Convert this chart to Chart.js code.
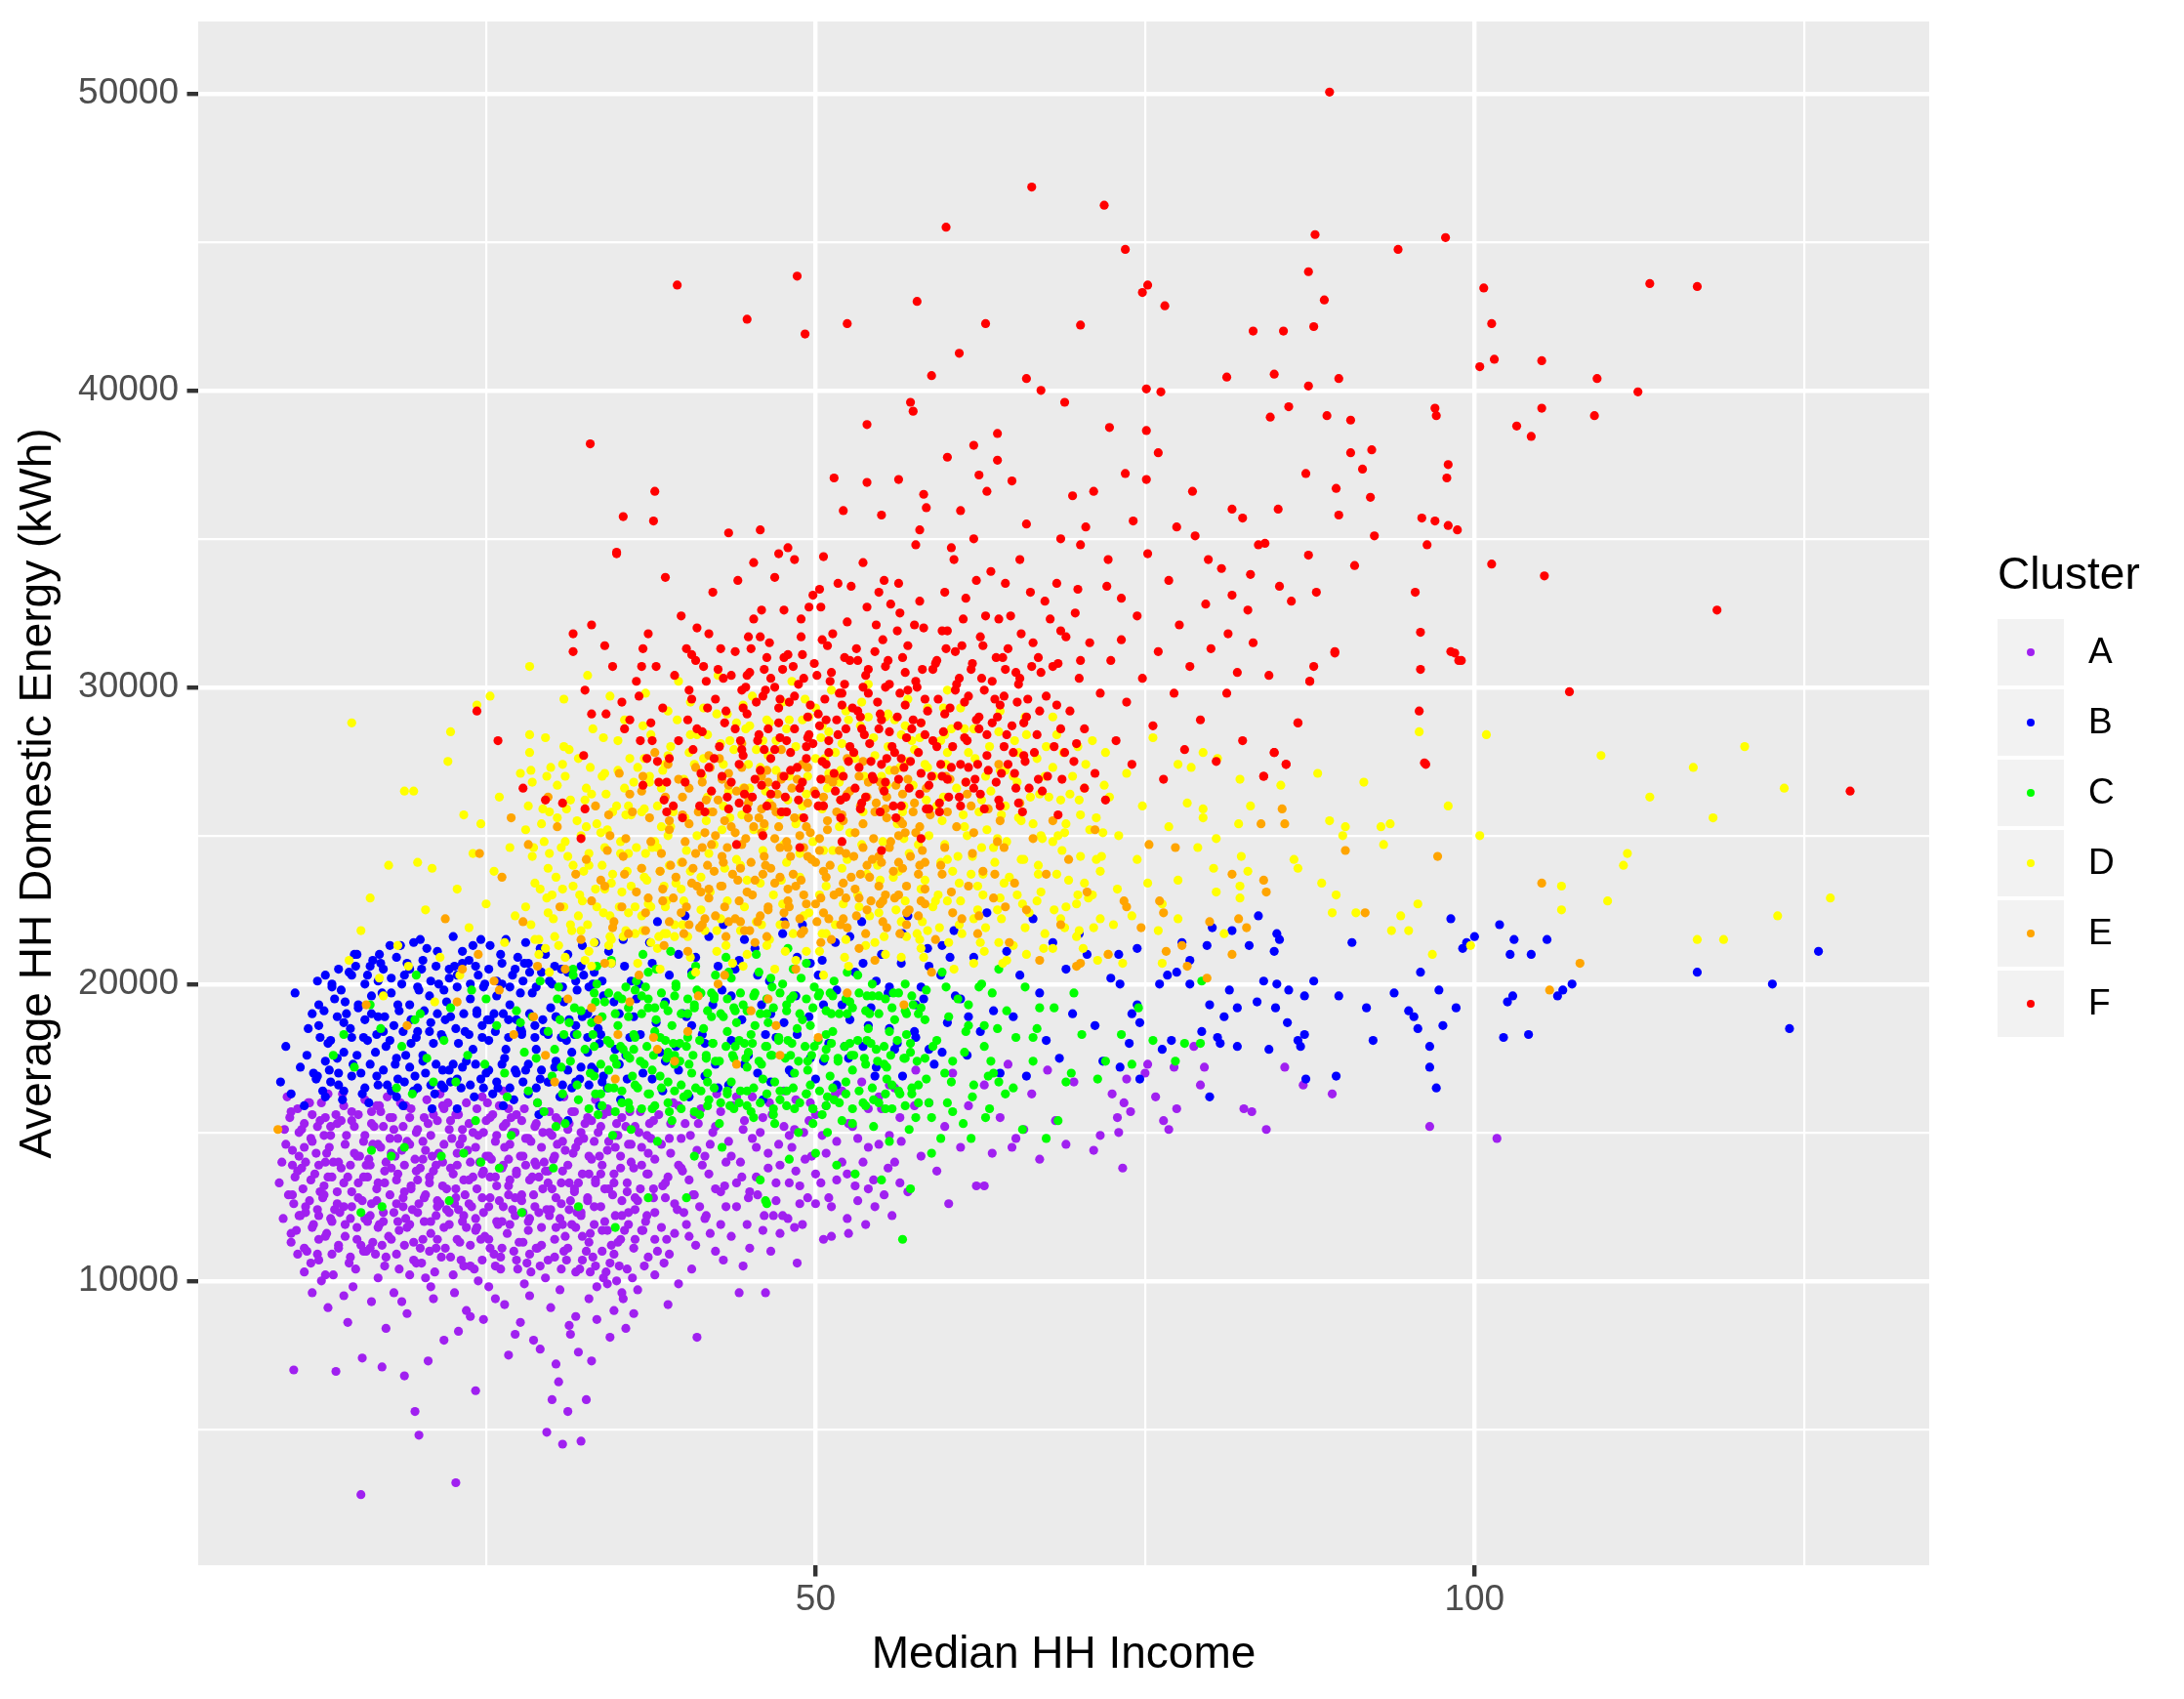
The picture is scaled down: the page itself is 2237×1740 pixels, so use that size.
<!DOCTYPE html>
<html lang="en">
<head>
<meta charset="utf-8">
<title>Median HH Income vs Average HH Domestic Energy</title>
<script src="https://cdn.jsdelivr.net/npm/chart.js@4.4.1/dist/chart.umd.min.js"></script>
<style>
  html, body { margin: 0; padding: 0; background: #ffffff; }
  #chart { display: block; }
</style>
</head>
<body>
<canvas id="chart" width="2237" height="1740"></canvas>
<script>
// values: [median HH income, average HH domestic energy kWh]
const clusterNames = ['A', 'B', 'C', 'D', 'E', 'F'];
const clusterColors = ['#A020F0', '#0000FF', '#00FF00', '#FFFF00', '#FFA500', '#FF0000'];

const xTicks = [25, 50, 75, 100, 125];
const xLabelled = [50, 100];
const yTicks = [5000, 10000, 15000, 20000, 25000, 30000, 35000, 40000, 45000, 50000];
const yLabelled = [10000, 20000, 30000, 40000, 50000];

const clusterA = [
  [9.3,13300],[9.6,12100],[9.8,14600],[10.1,15500],[10.3,13900],[10.4,12600],[10.6,11700],[10.8,14200],[11.0,15100],[11.1,13100],
  [11.3,12300],[11.5,16000],[11.7,14800],[11.9,11900],[12.0,13600],[12.2,10900],[12.4,15400],[12.6,12800],[12.8,14000],[13.0,16300],
  [12.3,11400],[12.7,13200],[13.1,14500],[13.3,12000],[13.6,15600],[13.8,11200],[14.0,13800],[14.2,12500],[14.4,14900],[14.6,10600],
  [14.8,13000],[15.0,15200],[15.2,11800],[15.4,14200],[15.6,12700],[15.8,16100],[16.0,13500],[13.4,10200],[14.9,9800],[15.9,11000],
  [16.2,12200],[16.4,14600],[16.6,10900],[16.8,13300],[17.0,15700],[17.2,12000],[17.4,14000],[17.6,11500],[17.8,13800],[18.0,15100],
  [18.2,12600],[18.4,10400],[18.6,14400],[18.8,13000],[19.0,11800],[19.2,15500],[19.4,12400],[19.6,14100],[19.8,13400],[20.0,11100],
  [16.5,15200],[17.5,16200],[18.5,16000],[19.5,10700],[16.9,11900],[18.9,12100],
  [20.2,14700],[20.4,12900],[20.6,15300],[20.8,11600],[21.0,13700],[21.2,12200],[21.4,14300],[21.6,10800],[21.8,15800],[22.0,13100],
  [22.2,11900],[22.4,14800],[22.6,12600],[22.8,13900],[23.0,11300],[23.2,15100],[23.4,12900],[23.6,14400],[23.8,10500],[24.0,13500],
  [20.5,16100],[21.5,16300],[22.5,10200],[23.5,16000],[21.3,12700],[22.9,12400],
  [24.2,12100],[24.4,14900],[24.6,11400],[24.8,13700],[25.0,15400],[25.2,12500],[25.4,14100],[25.6,10900],[25.8,13200],[26.0,15900],
  [26.2,12000],[26.4,14500],[26.6,11600],[26.8,13400],[27.0,15000],[27.2,12800],[27.4,10400],[27.6,14200],[27.8,12300],[28.0,13900],
  [24.7,16200],[26.3,16400],[27.3,15600],[25.3,11100],[26.7,12900],
  [28.2,11700],[28.4,14700],[28.6,12900],[28.8,15300],[29.0,13500],[29.2,11200],[29.4,14000],[29.6,12400],[29.8,15700],[30.0,13100],
  [30.2,10800],[30.4,14600],[30.6,12100],[30.8,13700],[31.0,11500],[31.2,15100],[31.4,12700],[31.6,14300],[31.8,10300],[32.0,13300],
  [28.9,16000],[30.9,16200],[29.5,10100],[31.5,11900],
  [32.2,12200],[32.4,14800],[32.6,11000],[32.8,13600],[33.0,15400],[33.2,12500],[33.4,9800],[33.6,14200],[33.8,11700],[34.0,13100],
  [34.2,15800],[34.4,10600],[34.6,12900],[34.8,14500],[35.0,11300],[35.2,13800],[35.4,9400],[35.6,15200],[35.8,12300],[36.0,14000],
  [32.9,10300],[34.9,10000],[33.3,16100],
  [36.3,12800],[36.6,15000],[36.9,11700],[37.2,13600],[37.5,14800],[37.8,12300],[38.1,15600],[38.4,13200],[38.7,11400],[39.0,14300],
  [39.3,12600],[39.6,15900],[39.9,13700],[40.2,11900],[40.5,14900],[40.8,12900],[41.1,15300],[41.4,13900],[41.7,12200],[42.0,14600],
  [37.0,10500],[38.9,10900],[40.9,11200],
  [42.4,13100],[42.8,15700],[43.2,12500],[43.6,14200],[44.0,16200],[44.4,13500],[44.8,11900],[45.2,14800],[45.6,12900],[46.0,15500],
  [46.4,13800],[46.8,12200],[47.2,14600],[47.6,16400],[48.0,13300],[48.4,15100],[48.8,12600],[49.2,14100],[49.6,16000],[50.0,13600],
  [43.0,10700],[45.0,11100],[47.3,11600],[48.6,10600],[46.2,9600],
  [50.5,14900],[51.0,12800],[51.5,16300],[52.0,14000],[52.5,15300],[53.0,13200],[53.5,16700],[54.0,14500],[54.5,12500],[55.0,15800],
  [55.5,13800],[56.0,16500],[56.5,14700],[57.0,13000],[57.5,15900],[58.0,14200],[51.2,11500],[53.8,11900],[55.8,12200],[57.6,17100],
  [58.6,16000],[59.2,13700],[59.8,15200],[60.4,17000],[61.0,14500],[61.6,15900],[62.2,13200],[62.8,16600],[63.4,14300],[64.0,15500],
  [64.6,17300],[65.2,14800],[65.8,15100],[66.4,16300],[67.0,14100],[67.6,17100],[68.2,15400],[69.0,14600],[69.6,16700],[62.8,13200],
  [64.9,14500],[60.1,12600],
  [71.1,14400],[71.6,14900],[72.5,16300],[72.9,15500],[73.0,15000],[73.3,13800],[73.4,16000],[73.6,16800],[73.9,15700],[75.0,17000],
  [75.2,17300],[75.8,16200],[76.4,15400],[76.8,15100],[77.2,17200],[77.4,15800],[78.7,17900],[79.2,16600],[79.5,17200],[82.5,15800],
  [83.1,15700],[84.2,15100],[85.6,17200],[87.0,16600],[89.2,16300],[96.6,15200],[101.7,14800],
  [10.4,7000],[13.6,6950],[15.5,2800],[19.6,5600],[19.9,4800],[24.2,6300],[22.7,3200],[29.6,4900],[30.8,4500],[32.2,4600],
  [32.6,6000],[30.5,6600],[29.1,7700],[28.6,8000],[31.8,8800],[30.3,7200],[31.3,8500],[33.4,8700],[34.7,9000],[35.3,9600],
  [36.5,9700],[38.8,9200],[41.0,8100],[44.2,9600],[26.7,7500],[27.2,8200],[24.8,8700],[22.9,8300],[21.0,9400],[19.0,8900],
  [17.4,8400],[16.3,9300],[14.5,8600],[13.0,9100],[11.8,9600],[11.2,10300],[12.5,10000],[18.0,9600],[20.4,10100],[25.7,9400],
  [27.9,9900],[29.9,9100],[33.9,10100],[37.8,10200],[39.6,9900],[23.5,9000],[26.1,10400],[15.6,7400],[17.1,7100],[18.8,6800],
  [21.8,8000],[20.6,7300],[31.2,5600],[30.0,6000],[32.0,7600],[33.0,7300],[28.3,9500],[34.4,8100],
  [9.5,14000],[9.7,15100],[10.0,12900],[10.2,11300],[10.5,13500],[9.9,16200],[10.7,15800],[10.9,12200],[11.2,14500],[11.4,11000],
  [11.0,13800],[11.6,12700],[11.8,15600],[12.1,14300],[12.3,12200],[12.5,16000],[11.7,10600],[12.4,13000],[12.9,11600],[13.2,15200],
  [13.0,13500],[13.4,14000],[12.7,14900],[13.5,12400],[13.7,13000],[14.0,15400],[14.3,11500],[13.9,12300],[14.5,13500],[14.1,16300],
  [14.7,12100],[15.0,14300],[15.3,13300],[14.8,15700],[15.5,11200],[15.1,10400],[15.7,14700],[16.0,12000],[16.3,15700],[15.9,13900],
  [16.4,11300],[16.1,14100],[16.7,12700],[17.0,14500],[17.3,13300],[16.9,15900],[17.4,10800],[17.1,11200],[17.7,14800],[18.0,12300],
  [18.3,13600],[17.9,15500],[18.4,11700],[18.1,14200],[18.7,12800],[19.0,14700],[19.3,13100],[18.9,15900],[19.5,11300],[19.2,10200],
  [19.7,15000],[20.0,13800],[20.3,12000],[19.9,12600],[20.4,14400],[20.1,10600],[20.7,13300],[21.0,15600],[21.3,11400],[20.9,14200],
  [21.5,12600],[21.1,10300],[21.7,14000],[22.0,12400],[22.3,15400],[21.9,11100],[22.5,13600],[22.1,16000],[22.7,13100],[23.0,14600],
  [23.3,12200],[22.9,15600],[23.5,11800],[23.1,10700],[23.7,13400],[24.0,15000],[24.3,11800],[23.9,12500],[24.5,14000],[24.1,10400],
  [24.7,12800],[25.0,14200],[25.3,13500],[24.9,11500],[25.5,15600],[25.1,16000],[25.7,14700],[26.0,12700],[26.3,13900],[25.9,11900],
  [26.5,15300],[26.1,10800],[26.7,14100],[27.0,12400],[27.3,13700],[26.9,15500],[27.5,11300],[27.1,11000],[27.7,12900],[28.0,14800],
  [28.3,12100],[27.9,15800],[28.5,13500],[28.1,10600],[28.7,14000],[29.0,12300],[29.3,15000],[28.9,11100],[29.5,13700],[29.1,10500],
  [29.7,13300],[30.0,14900],[30.3,11800],[29.9,12400],[30.5,15400],[30.1,14100],[30.7,12600],[31.0,14400],[31.3,13300],[30.9,11000],
  [31.5,15700],[31.1,10700],[31.7,13000],[32.0,14700],[32.3,11500],[31.9,12300],[32.5,15300],[32.1,10400],[32.7,12800],[33.0,14100],
  [33.3,13400],[32.9,11600],[33.5,15000],[33.1,10800],[33.7,13600],[34.0,12000],[34.3,14700],[33.9,15600],[34.5,11200],[34.1,10300],
  [34.7,13300],[35.0,14900],[35.3,12200],[34.9,15300],[35.5,11700],[35.1,10500],[35.7,13000],[36.0,14600],[36.3,11400],[35.9,15700],
  [36.5,12700],[36.1,10100],[36.8,13900],[37.1,12000],[37.4,15300],[37.7,13100],[38.0,11000],[37.3,14300],[38.3,14600],[38.6,12800],
  [39.0,15300],[39.3,11600],[39.6,13900],[40.0,12300],[38.8,13500],[39.8,14800],[40.4,13400],[40.8,15600],[41.2,12500],[41.6,14200],
  [42.0,11600],[42.4,15200],[42.8,13000],[43.2,14000],[43.6,11500],[44.0,13300],[44.5,15100],[45.0,13000],[45.5,14500],[46.0,11700],
  [46.5,16000],[47.0,13300],[47.5,12200],[48.0,14900],[48.5,13700],[49.0,11900],[49.5,15400],[50.0,12600],[50.8,14300],[51.6,13400],
  [52.4,12100],[53.2,14800],[54.0,13100],[54.8,16200],[55.6,14900],[56.4,13300],
  [12.8,10200],[14.2,9500],[16.8,10100],[18.6,9300],[20.8,9800],[22.6,9600],[24.4,10000],[26.4,9200],[28.4,10300],[30.6,9700],
  [32.8,9400],[34.2,9900],[36.2,8900],[35.6,8400],[31.4,8200],[27.6,8600],[25.2,9800],[23.8,8800],
  [10.2,11600],[10.3,12900],[10.3,14400],[10.2,15700],[10.8,12200],[10.7,13700],[10.8,15000],[10.7,10900],[11.2,11100],[11.3,12500],
  [11.3,14000],[11.2,15300],[11.8,11800],[11.7,13400],[11.8,14700],[11.6,16000],[12.2,12400],[12.3,13900],[12.2,15200],[12.3,10700],
  [12.8,11500],[12.7,12900],[12.9,14300],[12.8,15500],[13.2,12100],[13.3,13500],[13.2,14900],[13.3,10900],[13.8,11100],[13.7,12600],
  [13.8,14000],[13.7,15300],[14.3,11900],[14.2,13300],[14.3,14600],[14.2,15900],[14.8,12500],[14.7,13900],[14.8,15400],[14.7,10800],
  [15.2,11400],[15.3,12800],[15.2,14200],[15.3,15600],[15.8,12100],[15.7,13500],[15.8,14900],[15.7,11000],[16.2,11100],[16.3,12600],
  [16.2,13900],[16.3,15300],[16.8,11800],[16.7,13100],[16.8,14600],[16.7,15900],[17.2,12300],[17.3,13700],[17.2,15200],[17.3,10500],
  [17.8,11400],[17.7,12900],[17.8,14300],[17.7,15500],[18.3,12000],[18.2,13400],[18.3,14800],[18.2,10900],[18.8,11200],[18.7,12500],
  [18.8,13900],[18.7,15200],[19.2,11900],[19.3,13200],[19.2,14600],[19.3,15800],[19.8,12300],[19.7,13700],[19.8,15100],[19.7,10600],
  [20.2,11400],[20.3,12800],[20.2,14100],[20.3,15500],[20.8,12000],[20.7,13500],[20.8,14900],[20.7,11000],[21.2,11100],[21.3,12500],
  [21.2,13900],[21.3,15400],[21.8,11800],[21.7,13200],[21.8,14600],[21.7,15900],[22.2,12300],[22.3,13800],[22.2,15100],[22.3,10800],
  [22.8,11400],[22.7,12800],[22.8,14300],[22.7,15600],[23.2,12000],[23.3,13400],[23.2,14800],[23.3,10500],[23.8,11200],[23.7,12600],
  [23.8,14000],[23.7,15300],[24.2,11700],[24.3,13100],[24.2,14500],[24.3,15800],[24.8,12300],[24.7,13600],[24.8,15000],[24.7,10700],
  [25.2,11400],[25.3,12800],[25.2,14200],[25.3,15500],[25.8,12000],[25.7,13500],[25.8,14900],[25.7,10500],[26.2,11100],[26.3,12500],
  [26.2,13800],[26.3,15200],[26.8,11900],[26.7,13200],[26.8,14600],[26.7,15800],[27.2,12200],[27.3,13600],[27.2,15000],[27.3,10700],
  [27.8,11300],[27.7,12700],[27.8,14200],[27.7,15400],[28.2,12000],[28.3,13400],[28.2,14800],[28.3,10900],[28.8,11100],[28.7,12500],
  [28.8,13900],[28.7,15200],[29.2,11800],[29.3,13100],[29.2,14500],[29.3,15700],[29.8,12200],[29.7,13700],[29.8,15000],[29.7,10700],
  [30.2,11400],[30.3,12800],[30.2,14200],[30.3,15500],[30.8,11900],[30.7,13300],[30.8,14700],[30.7,10400],[31.2,11100],[31.3,12400],
  [31.2,13900],[31.3,15300],[31.8,11800],[31.7,13100],[31.8,14500],[31.7,15700],[32.2,12300],[32.3,13600],[32.2,15000],[32.3,10700],
  [32.8,11300],[32.7,12700],[32.8,14200],[32.7,15500],[33.2,11900],[33.3,13300],[33.2,14700],[33.3,10500],[33.8,11000],[33.7,12500],
  [33.8,13900],[33.7,15200],[34.2,11700],[34.3,13100],[34.2,14400],[34.3,15700],[34.8,12200],[34.7,13600],[34.8,14900],[34.7,10900],
  [35.2,11400],[35.3,12700],[35.2,14200],[35.3,15500],[35.8,11900],[35.7,13300],[35.8,14600],[35.7,10400],[36.2,11100],[36.3,12400],
  [36.2,13800],[36.3,15200],[36.8,11700],[36.7,13100],[36.8,14500],[36.7,15700],[37.2,12200],[37.3,13600],[37.2,14900],[37.3,10800],
  [37.8,11400],[37.7,12800],[37.8,14100],[37.7,15400],
  [38.3,11800],[38.6,13300],[38.9,14800],[39.2,16000],[39.5,12400],[39.8,13800],[40.1,15300],[40.4,11500],[40.7,12900],[41.0,14400],
  [41.3,15800],[41.6,12100],[41.9,13600],[42.2,15000],[42.5,16300],[42.8,11900],[43.1,13200],[43.4,14700],[43.7,15900],[44.0,12500],
  [44.3,14000],[44.6,15400],[44.9,12800],[45.2,16200],[45.5,13500],[45.8,15000],[46.1,12200],[46.4,14300],[46.7,15600],[47.0,12700],
  [47.3,13900],[47.6,15200],[47.9,12100],[48.2,14500],[48.5,16100],[48.8,13200],[49.1,15000],[49.4,12800],[49.7,14200],[50.0,15600],
  [50.4,13300],[50.8,15900],[51.2,12500],[51.6,14700],[52.0,16400],[52.4,13600],[52.8,15200],[53.2,12700],[53.6,14000],[54.0,15800],
  [54.4,13400],[54.8,14600],[55.2,12900],[55.6,16600],[56.0,14000],[56.4,15500],[38.5,10600],[40.6,10400],[42.4,11000],[44.5,10500],
  [46.6,11000],[48.4,11800],[50.6,11400],[52.5,11600]
];

const clusterB = [
  [9.4,16700],[9.8,17900],[10.2,16300],[10.5,19700],[10.9,17200],[11.2,15900],[11.5,18500],[11.9,17000],[12.3,19300],[12.6,16400],
  [13.0,18000],[13.3,20000],[13.7,17500],[14.1,16100],[14.4,19000],[14.8,18200],[15.1,20600],[15.5,17000],[15.8,18800],[16.1,16000],
  [16.3,19600],[16.6,17700],[16.9,21000],[17.2,18400],[17.5,16600],[17.8,20200],[18.1,17300],[18.4,19100],[18.7,15900],[19.0,20700],
  [19.3,18000],[19.6,16900],[19.9,19800],[20.2,17600],[20.5,21200],[20.8,18700],[21.1,16300],[21.4,20000],[21.7,17100],[22.0,19400],
  [16.8,18900],[18.2,16200],[19.5,21400],[20.9,15800],[21.6,18300],
  [22.3,16700],[22.6,20600],[22.9,18000],[23.2,21100],[23.5,17400],[23.8,19500],[24.1,16200],[24.4,20300],[24.7,18600],[25.0,17000],
  [25.3,21300],[25.6,19000],[25.9,16500],[26.2,20000],[26.5,17800],[26.8,19300],[27.1,16100],[27.4,20900],[27.7,18300],[28.0,17100],
  [22.8,15800],[24.6,21500],[26.3,15900],[27.6,19700],[25.1,18800],
  [28.3,20400],[28.7,18600],[29.1,16800],[29.5,21000],[29.9,19200],[30.3,17400],[30.7,20500],[31.1,18100],[31.5,16500],[31.9,19800],
  [32.3,21300],[32.7,17700],[33.1,20000],[33.5,18500],[33.9,16900],[34.3,21100],[34.7,19400],[35.1,17300],[35.5,20600],[35.9,18200],
  [29.0,15600],[31.2,15400],[33.6,15900],[35.2,16100],
  [36.4,19500],[36.9,17000],[37.4,21400],[37.9,18700],[38.4,16400],[38.9,20300],[39.4,17900],[39.9,19000],[40.4,16200],[40.9,20900],
  [41.4,18300],[41.9,21600],[42.4,17300],[42.9,19800],[43.4,16600],[43.9,20500],[44.4,18800],[44.9,17600],[45.4,21200],[45.9,19300],
  [38.0,22100],[40.1,22300],[43.0,22000],[46.0,16100],
  [46.5,20100],[47.0,18200],[47.5,21700],[48.0,17100],[48.5,19600],[49.0,22000],[49.5,18900],[50.0,16800],[50.5,20800],[51.0,18000],
  [51.5,21400],[52.0,19300],[52.5,17500],[53.0,20400],[53.5,22100],[54.0,18600],[54.5,16900],[55.0,21000],[55.5,19700],[56.0,17800],
  [56.5,20700],[57.0,22300],[57.5,18400],[58.0,19900],[58.5,21200],[59.0,17300],[59.5,20300],[60.0,18700],
  [60.5,21800],[61.0,19500],[61.5,17600],[62.0,20900],[62.5,18400],[63.0,22400],[63.5,19100],[64.0,17000],[64.5,21100],[65.0,18900],
  [65.5,20300],[66.0,16900],[66.5,22200],[67.0,19700],[67.5,18100],[68.0,21400],[68.5,17500],[69.0,20500],[69.5,19000],[70.0,21700],
  [70.6,21000],[71.2,18600],[71.8,17400],[72.4,20200],
  [73.0,21000],[73.1,20000],[73.1,17200],[73.8,18000],[74.0,19000],[74.4,21200],[74.4,19300],[74.6,18700],[74.6,16800],[76.1,20000],
  [76.3,17800],[76.7,20300],[77.0,18100],[77.4,20400],[77.8,21400],[78.4,20800],[78.4,20000],[79.3,18400],[79.7,21300],[79.9,16200],
  [79.9,19300],[80.1,21900],[80.5,18200],[80.7,18000],[81.0,18900],[81.4,19800],[81.6,21800],[82.0,19200],[82.0,17900],[82.9,21300],
  [83.5,19400],[83.6,22300],[84.0,20100],[84.4,17800],[84.8,21100],[84.9,19200],[85.0,21700],[85.0,20000],[85.2,21500],[85.8,18700],
  [85.9,19800],[86.6,18100],[86.8,17900],[87.1,19600],[87.1,18300],[87.2,16800],[87.8,20100],[89.5,16900],[89.7,19600],[90.7,21400],
  [91.8,19200],[92.3,18100],[93.9,19700],[95.0,19100],[95.4,18900],[95.7,18500],[95.9,20400],[96.6,17900],[96.6,17200],[97.1,16500],
  [97.3,19800],[97.6,18600],[98.2,22200],[98.6,19200],[99.1,21200],[99.4,21400],[100.0,21600],[101.9,22000],[102.2,18200],[102.5,19400],
  [102.7,21000],[102.9,19600],[103.0,21500],[104.1,18300],[104.3,21000],[105.5,21500],[106.3,19600],[106.7,19800],[107.4,20000],[116.9,20400],
  [122.6,20000],[123.9,18500],[126.1,21100],
  [11.4,17600],[11.8,19000],[12.1,16800],[12.4,18200],[12.8,20300],[13.1,17100],[13.5,19500],[13.8,16600],[14.2,18700],[14.6,20400],
  [14.9,17300],[15.3,19300],[15.6,16300],[16.0,18100],[16.4,20800],[16.7,16900],[17.1,19700],[17.4,17900],[17.7,21300],[18.0,18600],
  [18.3,16800],[18.6,20000],[18.9,17600],[19.2,19300],[19.5,16400],[19.8,18400],[20.1,20500],[20.4,17000],[20.7,19600],[21.0,18000],
  [21.3,21100],[21.6,16600],[21.9,18800],[22.2,20200],[22.5,17300],[22.8,19900],[23.1,16500],[23.4,18400],[23.7,20800],[24.0,17800],
  [24.3,19100],[24.6,16800],[24.9,20000],[25.2,18100],[25.5,16300],[25.8,19600],[26.1,21000],[26.4,17500],[26.7,18800],[27.0,20300],
  [27.3,17000],[27.6,18500],[27.9,20700],[28.2,16300],[28.5,19700],[28.8,17800],[29.1,21200],[29.4,18400],[29.7,16700],[30.0,20000],
  [30.3,18900],[30.6,16200],[30.9,19400],[31.2,21000],[31.5,17700],[31.8,18600],[32.1,16800],[32.4,20300],[32.7,19000],[33.0,17200],
  [33.3,21400],[33.6,18000],[33.9,19600],[34.2,16500],[34.5,20700],[34.8,17800],[35.1,19000],[35.4,21500],[35.7,16800],[36.0,20100],
  [36.7,18300],[37.6,20700],[38.6,17400],[39.6,21000],[40.6,18600],[41.6,16900],[42.6,20600],[43.6,18100],[44.6,21500],[45.6,17000],
  [46.6,19000],[47.6,22100],[48.6,18300],[49.6,20700],[50.6,17400],[51.6,19800],[52.6,21600],[53.6,17900],[54.6,20100],[55.6,18500],
  [56.6,21700],[57.6,19300],[58.6,17800],[59.6,21300],
  [14.0,19800],[15.0,21000],[16.0,20300],[17.0,20700],[18.5,21300],[20.0,21500],[22.5,21600],[24.0,21300],[26.5,21500],[28.0,21400],
  [12.2,16900],[12.3,18600],[12.2,20100],[12.8,17400],[12.7,19100],[12.8,16200],[13.2,18100],[13.3,19900],[13.2,16700],[13.8,17000],
  [13.7,18900],[13.8,20500],[14.2,17700],[14.3,19400],[14.2,16400],[14.8,16900],[14.7,18500],[14.8,20300],[15.2,17600],[15.3,19200],
  [15.2,21000],[15.8,16500],[15.7,18200],[15.8,20000],[16.2,17300],[16.3,19000],[16.2,20600],[16.8,16600],[16.7,18300],[16.8,20100],
  [17.2,17100],[17.3,18900],[17.2,20500],[17.8,16400],[17.7,18100],[17.8,19700],[18.2,17500],[18.3,19300],[18.2,20900],[18.8,16700],
  [18.7,18400],[18.8,20300],[19.2,17200],[19.3,18800],[19.2,20500],[19.8,16500],[19.7,18200],[19.8,19900],[20.2,17400],[20.3,19100],
  [20.2,20800],[20.8,16600],[20.7,18400],[20.8,20100],[21.2,17300],[21.3,19000],[21.2,20600],[21.8,16500],[21.7,18200],[21.8,19800],
  [22.2,17100],[22.3,18900],[22.2,20500],[22.8,16800],[22.7,18500],[22.8,20300],[23.2,17200],[23.3,19000],[23.2,20700],[23.8,16600],
  [23.7,18300],[23.8,20000],[24.2,17300],[24.3,19000],[24.2,20600],[24.8,16500],[24.7,18200],[24.8,19900],[25.2,17100],[25.3,18800],
  [25.2,20500],[25.8,16700],[25.7,18400],[25.8,20100],[26.2,17300],[26.3,19000],[26.2,20700],[26.8,16500],[26.7,18200],[26.8,19900],
  [27.2,17100],[27.3,18800],[27.2,20500],[27.8,16700],[27.7,18400],[27.8,20100],[28.2,17300],[28.3,19000],[28.2,20700],[28.8,16500],
  [28.7,18200],[28.8,19900],[29.2,17100],[29.3,18800],[29.2,20400],[29.8,16700],[29.7,18300],[29.8,20100],[30.2,17200],[30.3,18900],
  [30.2,20600],[30.8,16600],[30.7,18200],[30.8,19900],[31.2,17100],[31.3,18800],[31.2,20400],[31.8,16700],[31.7,18300],[31.8,20100],
  [32.2,17200],[32.3,18900],[32.2,20600],[32.8,16600],[32.7,18200],[32.8,19900],[33.2,17100],[33.3,18800],[33.2,20400],[33.8,16700],
  [33.7,18300],[33.8,20100],
  [35.6,17600],[36.6,20000],[37.6,16800],[38.6,19400],[39.6,17100],[40.6,20400],[41.6,18000],[42.6,16500],[43.6,19600],[44.6,17300],
  [45.6,20300],[46.6,16700],[47.6,18700],[48.6,20900],[49.6,17500],[50.6,19300],[51.6,16600],[52.6,18800],[53.6,20700],[54.6,17200],
  [55.6,19900],[56.6,16900],[57.6,18200],[58.6,20600],[59.6,17700],[60.6,19600],[61.6,18900],[36.2,18900],[38.2,17700],[40.2,18900],
  [42.2,19300],[44.2,20800],[46.2,18300],[48.2,17000],[50.2,20300],[52.2,17900],[54.2,19200],[56.2,18000],[58.2,19500],[60.2,20900]
];

const clusterC = [
  [13.4,17600],[14.2,18300],[15.0,17200],[15.5,12300],[16.3,14400],[17.1,12500],[17.8,14200],[18.8,14500],[19.4,16300],[20.5,17500],
  [21.6,14200],[22.2,12700],[23.3,14300],[24.6,14000],[26.0,13800],[27.7,12300],[20.0,19000],[21.8,18100],[22.7,16700],[23.9,19800],
  [24.9,17300],[25.8,18600],[26.6,16200],[27.3,19100],[27.9,17700],[16.2,19300],[18.6,17900],[19.7,20300],[24.2,15400],[26.9,14900],
  [28.2,16400],[28.5,18900],[28.8,17500],[29.1,20100],[29.4,15700],[29.7,18400],[30.0,16900],[30.1,13800],[30.4,19500],[30.7,17200],
  [31.0,15300],[31.3,18700],[31.6,20500],[31.9,16600],[32.0,12500],[32.2,19100],[32.5,17800],[32.8,15800],[33.1,18300],[33.4,20000],
  [33.7,16300],[34.0,19400],[34.3,17100],[34.6,14900],[34.8,11800],[35.0,18600],[35.3,16000],[35.6,19900],[35.9,17500],[36.0,15100],
  [36.3,18200],[36.5,16500],[36.8,19600],[37.0,17300],[37.3,12800],[37.3,20400],[37.6,15800],[37.9,18800],[38.2,16900],[38.5,19300],
  [38.8,17700],[39.1,15400],[39.4,20000],[39.7,18000],[40.0,16200],[40.2,12800],[40.3,19000],[40.6,17000],[40.9,20600],[41.2,15600],
  [41.5,18500],[41.8,16700],[42.1,19700],[42.4,17400],[42.7,15300],[43.0,18900],[43.3,16400],[43.6,20200],[43.9,17900],[44.2,16000],
  [38.0,14700],[40.8,14200],[42.9,14500],[36.9,21000],[39.0,21100],
  [44.5,19300],[44.8,17200],[45.1,15700],[45.4,18600],[45.7,20400],[45.8,13400],[46.0,16800],[46.3,12600],[46.3,19000],[46.6,17600],
  [46.9,15300],[47.2,18200],[47.5,20000],[47.8,16400],[48.1,19500],[48.4,17000],[48.7,15000],[49.0,18800],[49.3,20700],[49.6,16600],
  [49.9,17900],[50.2,19600],[50.5,15600],[50.8,18300],[51.1,16900],[51.4,20100],[51.7,17500],[52.0,15400],[46.2,12700],[48.0,14100],
  [50.0,14300],[51.6,13900],[45.5,21000],[47.9,21200],
  [52.4,19000],[52.8,17100],[53.2,20300],[53.6,16000],[54.0,18500],[54.4,15200],[54.8,19600],[55.2,17300],[55.6,14700],[56.0,18800],
  [56.4,16300],[56.6,11400],[56.8,20000],[57.2,17700],[57.6,15500],[58.0,19200],[58.4,16800],[58.8,14300],[59.2,18100],[59.6,20400],
  [60.0,16000],[60.4,17400],[60.8,19500],[61.2,15300],[61.6,18600],[62.0,16600],[53.0,13600],[55.0,13400],[57.2,13100],[59.5,14800],
  [62.4,19900],[62.6,20000],[62.8,17900],[63.2,15800],[63.5,17000],[63.8,18500],[63.9,16700],[63.9,20500],[64.4,16300],[64.5,19100],
  [65.0,16500],[65.2,18200],[65.9,19900],[66.5,17400],[66.5,18200],[66.8,18500],[67.0,19200],[68.1,19200],[68.4,15400],[69.0,16700],
  [69.4,17000],[69.6,19700],[70.2,18300],[71.4,16800],[72.0,17400],[73.2,18300],[74.5,19200],[74.0,17300],[75.6,18100],[77.3,17400],
  [78.0,18000],[79.2,18000],[79.3,20100],[65.7,15100],[67.5,14800],
  [37.1,19900],[38.6,18100],[39.8,16600],[41.0,19800],[42.2,18000],[43.5,15900],[44.6,18000],[45.9,17300],[47.3,16100],[48.6,18500],
  [49.8,15800],[51.2,19000],[52.6,18000],[53.9,19600],[55.4,16800],[56.9,19000],[58.3,17500],[39.3,17300],[41.7,17600],[44.0,18700],
  [46.7,19900],[49.4,17400],[50.9,16200],[54.6,17800],[57.8,16600],[35.4,17800],[33.2,16900],[30.9,18300],[43.2,20900],[48.9,20200],
  [30.2,17800],[30.5,19900],[30.8,16300],[30.3,15200],[30.6,18800],[31.4,17400],[31.7,19200],[32.0,16100],[31.6,20300],[31.9,18300],
  [32.9,17000],[33.2,19700],[33.5,15600],[33.0,18700],[33.4,20600],[34.4,18000],[34.7,16500],[35.0,19600],[34.5,20800],[34.9,17300],
  [35.8,18900],[36.1,16900],[36.4,20100],[35.9,15800],[36.2,17800],[37.3,19200],[37.6,17100],[37.9,20500],[37.4,16300],[37.8,18400],
  [38.8,16700],[39.1,18600],[39.4,19900],[38.9,15700],[39.3,17600],[40.3,18200],[40.6,20300],[40.9,16500],[40.4,17300],[40.8,19300],
  [41.8,17000],[42.1,18900],[42.4,20300],[41.9,16100],[42.3,19500],[43.3,18400],[43.6,16700],[43.9,19100],[43.4,20400],[43.8,17500],
  [44.8,16400],[45.1,18300],[45.4,19700],[44.9,17700],[45.3,15500],[46.3,17900],[46.6,20200],[46.9,16700],[46.4,18700],[46.8,15600],
  [47.8,19300],[48.1,17600],[48.4,15800],[47.9,18100],[48.3,20500],[49.3,16300],[49.6,18600],[49.9,19900],[49.4,17100],[49.8,15300],
  [50.8,17800],[51.1,19700],[51.4,16100],[50.9,15000],[51.3,18400],[52.3,16700],[52.6,19400],[52.9,17600],[52.4,20400],[52.8,15300],
  [53.8,17300],[54.1,19000],[54.4,16100],[53.9,18100],[54.3,20000],[55.3,15800],[55.6,18400],[55.9,19700],[55.4,17200],[55.8,16600],
  [56.8,17500],[57.1,15100],[57.4,19300],[56.9,18300],[57.3,16300],[58.3,18800],[58.6,16000],[58.9,17900],[58.4,19800],[58.8,15500],
  [59.8,17000],[60.1,18900],[60.4,15700],[59.9,19900],[60.3,16700],[61.3,17700],[61.6,19300],[61.9,16200],[61.4,18400],[61.8,14800],
  [62.8,18600],[63.1,16900],[63.4,19700],[62.9,15500],[63.3,17400],
  [17.0,18500],[18.2,16500],[19.6,18800],[21.0,16700],[22.3,19200],[23.6,17600],[25.0,19500],[26.4,17000],[27.6,18700],[28.9,16000],
  [33.3,16300],[33.2,17900],[33.3,19400],[33.8,15900],[33.7,17300],[33.8,18900],[34.3,16500],[34.2,18100],[34.3,19700],[34.8,15700],
  [34.7,17500],[34.8,19000],[35.3,16400],[35.2,17900],[35.3,19500],[35.8,16000],[35.7,17600],[35.8,19200],[36.3,16600],[36.2,18300],
  [36.3,19800],[36.8,15800],[36.7,17400],[36.8,19000],[37.3,16300],[37.2,17900],[37.3,19500],[37.8,15900],[37.7,17600],[37.8,19200],
  [38.3,16500],[38.2,18200],[38.3,19700],[38.8,16000],[38.7,17500],[38.8,19100],[39.3,16400],[39.2,18000],[39.3,19600],[39.8,15800],
  [39.7,17400],[39.8,19000],[40.3,16300],[40.2,17900],[40.3,19500],[40.8,15700],[40.7,17600],[40.8,19200],[41.3,16400],[41.2,18100],
  [41.3,19700],[41.8,15900],[41.7,17500],[41.8,19100],[42.3,16500],[42.2,18000],[42.3,19600],[42.8,16000],[42.7,17400],[42.8,19000],
  [43.3,16300],[43.2,17900],[43.3,19500],[43.8,15800],[43.7,17600],[43.8,19200],[44.3,16400],[44.2,18100],[44.3,19700],[44.8,15900],
  [44.7,17500],[44.8,19100],[45.3,16500],[45.2,18000],[45.3,19600],[45.8,16000],[45.7,17400],[45.8,19000],[46.3,16300],[46.2,17900],
  [46.3,19500],[46.8,15800],[46.7,17600],[46.8,19200],[47.3,16400],[47.2,18100],[47.3,19700],[47.8,15900],[47.7,17500],[47.8,19100],
  [48.3,16500],[48.2,18000],[48.3,19600],[48.8,16000],[48.7,17400],[48.8,19000],[49.3,16300],[49.2,17900],[49.3,19500],[49.8,15800],
  [49.7,17600],[49.8,19200],[50.3,16400],[50.2,18100],[50.3,19700],[50.8,15900],[50.7,17500],[50.8,19100],[51.3,16500],[51.2,18000],
  [51.3,19600],[51.8,16000],[51.7,17400],[51.8,19000],[52.3,16300],[52.2,17900],[52.3,19500],[52.8,15800],[52.7,17600],[52.8,19200],
  [53.3,16400],[53.2,18100],[53.3,19700],[53.8,15900],[53.7,17500],[53.8,19100],[54.3,16500],[54.2,18000],[54.3,19600],[54.8,16000],
  [54.7,17400],[54.8,19000],[55.3,16300],[55.2,17900],[55.3,19500],[55.8,15800],[55.7,17600],[55.8,19200],[56.3,16400],[56.2,18100],
  [56.3,19700],[56.8,15900],[56.7,17500],[56.8,19100],[57.3,16500],[57.2,18000],[57.3,19600],[57.8,16000],[57.7,17400],[57.8,19000]
];

const clusterD = [
  [14.6,20800],[14.8,28800],[15.5,21800],[16.2,22900],[16.9,20200],[17.6,24000],[18.3,21300],[18.8,26500],[19.5,26500],[19.8,24100],
  [20.4,22500],[20.9,23900],[21.5,20900],[22.1,27500],[22.3,28500],[22.8,23200],[23.3,25700],[23.7,21900],[24.0,24400],[24.3,29400],
  [24.6,25400],[25.0,22700],[25.3,29700],[25.6,23800],[26.0,26300],[26.4,21400],[26.8,24600],[27.2,22300],[27.6,27100],[28.0,25200],
  [28.3,30700],[28.3,28400],[28.3,27800],[28.7,23400],[17.2,19600],[19.1,20600],[21.1,19400],[23.0,20300],
  [29.0,21500],[29.3,25900],[29.5,28300],[29.7,23900],[30.1,22200],[30.4,26700],[30.7,24600],[31.0,20900],[31.3,27900],[31.6,23300],
  [31.9,25500],[32.2,21800],[32.5,26200],[32.8,24000],[33.1,28600],[33.4,22600],[33.7,25100],[34.0,27100],[34.3,21300],[34.6,23700],
  [34.9,26000],[35.2,24400],[35.5,28900],[35.8,22400],[36.0,25700],[30.9,29600],[32.7,30400],[34.4,29700],[29.8,20400],[33.0,20600],
  [36.3,21700],[36.5,27300],[36.8,23900],[37.0,25900],[37.3,22700],[37.5,28400],[37.8,24800],[38.0,21200],[38.3,26600],[38.5,23300],
  [38.8,27700],[39.0,25300],[39.3,22000],[39.5,28900],[39.8,24100],[40.0,26900],[40.3,21600],[40.5,23800],[40.8,27400],[41.0,25000],
  [41.3,22500],[41.5,29300],[41.8,26300],[42.0,23100],[42.3,24700],[42.5,21100],[42.8,28100],[43.0,26000],[43.3,22800],[43.5,25600],
  [43.8,27900],[44.0,24200],[37.1,29800],[39.6,30200],[42.6,30400],[38.2,20500],[40.9,20400],[43.7,20700],
  [44.3,21800],[44.5,26600],[44.8,23500],[45.0,28700],[45.3,25200],[45.5,22100],[45.8,27300],[46.0,24500],[46.3,21300],[46.5,26100],
  [46.8,23000],[47.0,28200],[47.3,25700],[47.5,22700],[47.8,24100],[48.0,27000],[48.3,21700],[48.5,25400],[48.8,23600],[49.0,28900],
  [49.3,26400],[49.5,22400],[49.8,24800],[50.0,27600],[50.3,21100],[50.5,25900],[50.8,23300],[51.0,28500],[51.3,24500],[51.5,22000],
  [51.8,26800],[52.0,23900],[45.2,29700],[48.2,30200],[51.2,29900],[46.9,20500],[50.6,20300],
  [52.3,21500],[52.6,25100],[52.9,27700],[53.2,23000],[53.5,24700],[53.8,26300],[54.1,22300],[54.4,28300],[54.7,24000],[55.0,25800],
  [55.3,21000],[55.6,27200],[55.9,23600],[56.2,25400],[56.5,22100],[56.8,28700],[57.1,24400],[57.4,26700],[57.7,21700],[58.0,23200],
  [58.3,27400],[58.6,25000],[58.9,22600],[59.2,26000],[59.5,24100],[59.8,28400],[60.1,21400],[60.4,23800],[60.7,26600],[61.0,22800],
  [61.3,25300],[61.6,27800],[61.9,24300],[54.0,30100],[57.0,29600],[60.0,29900],[62.0,20700],
  [62.3,23300],[62.6,26200],[62.9,21900],[63.2,28000],[63.5,24600],[63.8,22500],[64.1,25700],[64.4,27200],[64.7,23600],[65.0,21300],
  [65.3,26800],[65.6,24200],[65.9,29000],[66.2,22400],[66.5,25400],[66.8,27600],[67.1,23100],[67.4,21700],[67.7,26300],[68.0,24800],
  [68.3,28400],[68.6,22200],[68.9,25100],[69.2,23500],[69.5,27000],[69.8,21600],[70.1,24300],[70.4,26600],[70.7,22900],[71.0,28200],
  [71.3,25600],[71.6,23800],
  [72.2,21000],[73.0,25000],[73.3,20700],[73.6,27100],[74.0,22300],[74.4,24200],[74.8,26000],[75.2,23400],[75.6,28300],[76.0,21800],
  [76.3,22700],[76.3,20700],[76.8,25300],[77.5,23500],[77.5,22200],[77.5,27400],[78.2,26100],[78.5,27300],[79.0,24600],[79.4,27800],
  [79.4,25900],[79.4,25600],[80.2,23900],[80.4,24900],[80.4,23100],[80.5,27600],[81.0,21700],
  [82.2,26900],[82.1,25400],[82.2,23300],[82.2,22900],[82.3,24300],[82.8,23800],[83.0,26000],[85.3,26700],[86.3,24200],[86.6,23900],
  [88.1,27100],[88.4,23400],[89.0,25500],[89.2,22400],[89.5,23000],[90.0,25000],[90.2,25300],[91.0,22400],[91.6,26800],[92.9,25300],
  [93.1,24700],[93.6,25400],[93.7,21800],[94.4,22300],[95.0,21800],[95.7,22700],[95.8,28500],[96.8,21000],[98.0,26000],[99.7,21300],
  [100.4,25000],[100.9,28400],[106.6,23300],[106.6,22500],[109.6,27700],[110.1,22800],[111.3,24000],[111.6,24400],[113.3,26300],[116.6,27300],
  [116.9,21500],[118.1,25600],[118.9,21500],[120.5,28000],[123.0,22300],[123.5,26600],[127.0,22900],
  [28.0,22600],[28.2,26000],[28.5,24300],[28.7,21500],[28.4,27200],[29.4,24800],[29.6,22900],[29.9,27300],[29.5,21200],[29.8,25800],
  [30.8,23200],[31.1,25900],[31.4,22000],[30.9,28000],[31.2,24300],[32.3,22800],[32.6,25300],[32.9,27300],[32.4,23800],[32.8,21100],
  [33.8,24000],[34.1,26400],[34.4,22300],[33.9,28300],[34.2,25200],[34.5,20700],[35.3,23100],[35.6,25700],[35.9,27600],[35.4,21600],
  [35.8,24400],[35.5,26600],[36.8,22300],[37.1,24400],[37.4,26800],[36.9,28700],[37.2,23500],[37.5,21400],[38.3,25300],[38.6,22600],
  [38.9,24000],[38.4,27200],[38.8,29200],[38.7,21700],[39.8,23200],[40.1,25600],[40.4,27800],[39.9,22000],[40.2,24500],[40.5,29500],
  [41.3,23600],[41.6,21800],[41.9,24400],[41.4,27000],[41.8,28400],[41.7,25500],[42.8,22200],[43.1,23900],[43.4,26500],[42.9,25200],
  [43.3,29100],[43.2,21300],[44.3,24000],[44.6,22600],[44.9,27400],[44.4,25700],[44.8,21000],[44.7,28600],[45.8,23400],[46.1,25300],
  [46.4,27700],[45.9,22000],[46.3,28900],[46.2,26500],[47.3,22000],[47.6,24700],[47.9,26200],[47.4,23500],[47.8,28600],[47.7,21100],
  [48.8,24400],[49.1,22300],[49.4,27000],[48.9,25600],[49.3,21100],[49.2,29600],[50.3,23000],[50.6,24500],[50.9,26600],[50.4,28300],
  [50.8,21700],[50.7,27600],[51.8,25300],[52.1,22700],[52.4,24200],[51.9,27200],[52.3,29200],[52.2,20900],[53.3,22600],[53.6,25800],
  [53.9,23700],[53.4,28700],[53.8,21300],[53.7,27000],[54.8,22400],[55.1,24800],[55.4,26700],[54.9,23500],[55.3,29000],[55.2,21600],
  [56.3,23800],[56.6,25800],[56.9,21600],[56.4,27300],[56.8,22800],[56.7,24900],[57.8,24700],[58.1,22100],[58.4,26200],[57.9,28300],
  [58.3,23500],[58.2,20900],[59.3,23000],[59.6,25500],[59.9,27400],[59.4,21900],[59.8,24700],[59.7,29300],[60.8,24300],[61.1,21700],
  [61.4,26800],[60.9,23400],[61.3,28600],[61.2,25700],[62.3,22500],[62.6,24600],[62.9,27000],[62.4,25800],[62.8,21100],[62.7,23700],
  [63.8,24900],[64.1,22200],[64.4,26000],[63.9,28500],[64.3,23400],[64.2,20700],[65.3,23000],[65.6,25500],[65.9,21900],[65.4,27800],
  [65.8,24200],[66.8,22800],[67.1,25000],[67.4,27000],[66.9,24000],[67.3,21200],[68.3,23700],[68.6,26200],[68.9,21900],[68.4,25000],
  [68.8,27800],[69.8,22700],[70.1,25700],[70.4,23400],[69.9,28000],[70.3,21200],[71.3,24200],[71.6,22200],[71.9,26700],[71.4,20800],
  [71.8,25100],
  [28.4,22000],[28.6,24600],[28.5,26800],[29.1,23200],[29.2,25400],[29.0,21000],[29.7,22400],[29.8,24400],[29.6,27000],[30.3,23600],
  [30.4,25600],[30.2,21600],[30.9,22600],[31.0,24800],[30.8,27400],[31.5,21800],[31.6,24000],[31.4,26200],[32.1,23000],[32.2,25000],
  [32.0,27600],[32.7,22000],[32.8,24400],[32.6,26600],[33.3,23200],[33.4,25400],[33.2,21400],[33.9,22400],[34.0,24600],[33.8,27000],
  [34.5,23400],[34.6,25800],[34.4,21600],[35.1,22600],[35.2,24800],[35.0,27200],[35.7,23800],[35.8,26000],[35.6,21800],[36.3,22600],
  [36.4,24600],[36.2,26800],[36.9,21800],[37.0,23600],[36.8,25800],[37.5,22600],[37.6,24600],[37.4,27000],[38.1,21600],[38.2,23800],
  [38.0,26000],[38.7,22800],[38.8,25000],[38.6,27400],[39.3,21600],[39.4,23400],[39.2,25800],
  [55.5,28000],[56.1,22500],[56.7,26000],[57.3,28200],[57.9,21500],[58.5,27300],[59.1,22800],[59.7,26300],[60.3,28600],[60.9,22000],
  [61.5,25000],[62.1,27600],[62.7,23000],[63.3,26500],[63.9,21400],[64.5,24800],[65.1,28200],[65.7,22700],[66.3,26300],[66.9,23700],
  [67.5,28000],[68.1,22500],[68.7,24500],[69.3,26400],[69.9,23000],[70.5,27400],[71.1,21900],[71.7,24300],[72.3,26300],[72.9,23200],
  [60.0,24200],[61.8,23700],[63.6,24100],[65.4,25600],[67.2,24900],[69.0,22600],[70.8,25200],[72.6,22000],[64.0,27200],[68.0,27300],
  [40.5,28400],[41.5,27600],[42.5,29100],[43.5,28200],[44.5,29400],[45.5,27900],[46.5,28800],[47.5,29500],[48.5,28000],[49.5,29000],
  [50.5,28700],[51.5,27800],[52.5,28900],[53.5,29500],[54.5,27700],[55.5,29100],[56.5,28400],[57.5,27900],[58.5,29300],[59.5,28200],
  [30.5,21300],[32.5,20800],[34.5,21500],[36.5,20700],[38.5,21700],[40.5,20900],[42.5,21800],[44.5,20600],[46.5,21500],[48.5,20800],
  [50.5,21700],[52.5,20600],[54.5,21400],[56.5,20900],[58.5,21800],[60.5,20500],[62.5,21400],[64.5,20800],
  [30.0,23000],[31.0,27000],[32.0,22300],[33.0,26400],[34.0,23200],[35.0,28200],[36.0,23300],[37.0,27600],[38.0,24600],[39.0,28000],
  [40.0,22800],[41.0,28400],[42.0,25800],[43.0,27400],[44.0,28800],[45.0,26600],[46.0,28200],[47.0,27200],[48.0,28900],[49.0,26000],
  [50.0,29300],[51.0,27100],[52.0,28100],[53.0,27600],[54.0,29000],[55.0,27000],[56.0,28900],[57.0,27500],[58.0,28800],[59.0,27000],
  [60.0,27800],[61.0,29300],[62.0,28600],[63.0,25200],[64.0,29200],[65.0,27000],[66.0,28400],[67.0,26400],[68.0,29000],[69.0,25400],
  [70.0,26200],[71.0,23000],[72.0,27800],[66.0,21000],[68.0,21200],[70.0,21800],[62.0,22200],[64.0,22900],[60.0,22800],[58.0,21200]
];

const clusterE = [
  [9.2,15100],[15.9,19300],[19.0,18600],[21.9,22200],[22.8,19400],[24.4,21000],[25.6,20100],[26.2,23600],[27.1,18300],[27.8,22100],
  [28.2,24700],[28.9,20600],[29.5,17600],[30.4,25300],[30.6,22600],[31.2,19500],[31.8,23700],[24.5,24400],[26.9,25600],[29.7,26300],
  [32.2,21500],[32.6,24200],[33.0,22800],[33.3,26000],[33.7,23500],[34.0,20700],[34.4,25000],[34.7,22100],[35.1,27100],[35.4,24300],
  [35.8,21700],[36.1,25800],[36.4,23100],[36.8,26500],[37.1,22400],[37.5,24800],[37.8,27800],[38.2,23800],[38.5,21300],[38.9,25500],
  [39.2,22900],[39.6,26900],[39.9,24100],[33.5,18800],[35.9,19400],[37.7,18200],[39.3,17400],[34.8,16800],
  [40.2,22600],[40.4,25400],[40.7,23900],[40.9,27300],[41.2,21900],[41.4,24600],[41.7,26200],[41.9,23200],[42.2,25800],[42.4,22300],
  [42.7,27600],[42.9,24300],[43.2,21600],[43.4,26700],[43.7,23700],[43.9,25100],[44.2,22800],[44.4,28100],[44.7,24900],[44.9,26300],
  [45.2,23000],[45.4,21400],[45.7,25600],[45.9,27000],[46.2,24000],[46.4,22500],[46.7,26000],[46.9,23400],[47.2,25300],[47.4,27900],
  [47.7,22000],[47.9,24600],[41.1,19600],[43.1,20300],[45.1,19100],[47.0,18600],
  [48.2,26600],[48.5,23300],[48.8,25000],[49.1,21800],[49.4,27300],[49.7,24200],[50.0,22700],[50.3,26000],[50.6,23800],[50.9,25500],
  [51.2,21500],[51.5,27000],[51.8,24500],[52.1,22200],[52.4,26400],[52.7,23600],[53.0,25100],[53.3,21200],[53.6,27500],[53.9,24000],
  [54.2,22800],[54.5,25800],[54.8,23300],[55.1,26600],[55.4,21900],[55.7,24800],[56.0,27200],[56.3,23000],[56.6,25400],[56.9,22400],
  [57.2,24300],[57.5,26100],[57.8,23700],
  [58.3,22700],[58.7,25700],[59.1,21500],[59.5,24000],[59.9,27000],[60.3,23100],[60.7,25300],[61.1,22200],[61.5,26400],[61.9,24400],
  [62.3,21700],[62.7,23800],[63.1,25900],[63.5,22900],[63.9,27400],[64.3,24600],[64.7,21400],[65.1,23400],[65.5,26100],[66.0,22500],
  [66.5,24900],[67.0,20800],[67.5,23700],[68.0,25500],[68.6,22000],[69.2,24200],[69.8,20600],[70.1,20700],[70.6,23100],[71.2,25200],
  [72.2,21000],[73.4,22800],[73.6,22600],[74.7,21900],[75.3,24700],[76.1,22800],[76.4,22400],[76.6,21100],[77.3,24600],[77.8,21300],
  [78.2,20600],[79.7,20200],[79.9,22100],[81.6,23700],[81.6,21000],[82.1,22200],[82.7,21900],[83.8,25400],[84.0,23500],[84.2,23100],
  [85.4,25900],[85.6,25400],[90.2,24500],[91.7,22400],[97.2,24300],[105.1,23400],[105.7,19800],[108.0,20700],
  [34.0,23300],[34.3,25700],[34.6,21900],[34.2,24500],[35.3,22600],[35.6,24900],[35.9,26400],[35.5,23700],[36.8,23900],[37.1,21800],
  [37.4,25600],[36.9,27000],[37.3,22900],[38.3,24400],[38.6,26300],[38.9,22100],[38.4,23200],[38.8,27400],[39.8,22400],[40.1,24800],
  [40.4,26600],[39.9,25700],[40.3,21100],[41.3,23100],[41.6,25100],[41.9,27700],[41.4,22000],[41.8,24000],[42.8,23300],[43.1,25500],
  [43.4,22100],[42.9,26900],[43.3,24600],[44.3,23900],[44.6,21800],[44.9,25600],[44.4,27300],[44.8,23100],[45.8,22300],[46.1,24300],
  [46.4,26800],[45.9,25100],[46.3,21600],[47.3,23600],[47.6,25800],[47.9,22800],[47.4,26900],[47.8,24800],[48.8,22200],[49.1,24600],
  [49.4,26100],[48.9,23500],[49.3,25300],[50.3,24900],[50.6,22400],[50.9,26900],[50.4,21400],[50.8,23600],[51.8,23100],[52.1,25500],
  [52.4,27600],[51.9,22000],[52.3,24400],[53.3,22900],[53.6,24600],[53.9,26300],[53.4,23700],[53.8,21700],[54.8,24300],[55.1,22100],
  [55.4,25600],[54.9,26800],[55.3,23000],[56.3,24100],[56.6,26400],[56.9,23300],[56.4,21700],[56.8,25100],[57.8,22300],[58.1,24500],
  [58.4,26600],[57.9,25300],[58.3,23200],[59.6,23700],[60.0,25800],[60.4,22400],[59.8,24600],[60.2,26900],[61.6,23300],[62.0,25100],
  [62.4,22300],[61.8,26000],[63.6,23700],[64.0,25500],[64.4,22600],[63.8,24800],
  [26.0,19800],[28.6,18900],[31.0,20500],[33.0,19200],[36.6,20300],[38.0,17800],[40.3,18400],[42.6,20000],[44.0,17300],[46.4,19500],
  [48.5,20500],[50.2,18200],[52.4,19700],[54.5,20800],[56.7,19300],[58.8,20400],[23.2,20500],[30.2,16700],[35.0,18300],[47.3,17600],
  [38.4,22800],[38.9,25200],[39.4,23600],[39.9,26300],[40.4,22000],[40.9,24400],[41.4,26800],[41.9,22900],[42.4,25000],[42.9,23300],
  [43.4,27100],[43.9,22200],[44.4,24700],[44.9,26100],[45.4,23500],[45.9,25900],[46.4,22600],[46.9,24900],[47.4,27000],[47.9,23200],
  [48.4,25600],[48.9,21700],[49.4,24300],[49.9,26500],[50.4,22900],[50.9,25200],[51.4,23000],[51.9,26200],[52.4,21900],[52.9,24300],
  [53.4,26000],[53.9,22500],[54.4,24900],[54.9,22700],[55.4,26300],[55.9,23800],[56.4,25500],[56.9,22000],[57.4,25800],[57.9,24000],
  [39.0,24000],[40.0,21700],[41.0,23300],[42.0,27300],[43.0,24100],[44.0,26500],[45.0,21800],[46.0,23700],[47.0,25800],[48.0,22600],
  [49.0,27400],[50.0,24100],[51.0,22200],[52.0,25700],[53.0,23200],[54.0,26800],[55.0,24100],[56.0,22900],[57.0,26900],[58.0,22800],
  [40.6,23400],[41.1,25800],[41.6,22200],[42.1,24700],[42.6,26200],[43.1,22600],[43.6,25300],[44.1,23500],[44.6,26600],[45.1,24100],
  [45.6,22100],[46.1,25400],[46.6,23900],[47.1,26400],[47.6,22400],[48.1,24300],[48.6,26900],[49.1,23000],[49.6,25100],[50.1,22100],
  [50.6,26300],[51.1,24000],[51.6,25800],[52.1,23400],[52.6,26500],[53.1,22300],[53.6,25400],[54.1,23600],[54.6,26100],[55.1,22800],
  [55.6,24600],[56.1,26700],[56.6,23900],[57.1,22500],[57.6,25100],[42.3,23800],[44.3,22100],[46.3,27200],[48.3,23700],[50.3,24500],
  [52.3,22900],[54.3,24200],[56.3,25000],[58.3,24100],[45.3,25300],[47.3,24600],[49.3,22700],[51.3,26800],[53.3,27000],[55.3,25900]
];

const clusterF = [
  [24.3,29200],[25.9,28200],[27.8,26600],[29.5,26200],[30.8,26100],[31.6,31800],[31.6,31200],[32.2,24900],[32.4,27700],[32.5,25900],
  [32.5,29900],[33.0,29100],[33.0,32100],[34.0,31400],[34.1,29100],[34.9,34500],[35.5,28600],[35.9,28900],[36.6,29700],[36.7,28200],
  [36.8,30700],[36.9,31300],[36.9,26700],[37.2,27600],[37.3,31800],[37.5,28800],[37.9,30700],[38.0,27500],[38.1,26800],[38.5,26200],
  [38.7,26800],[38.7,25800],[38.9,27600],[39.2,26000],[39.9,25600],
  [40.3,28900],[40.6,31100],[40.9,30900],[41.0,32000],[41.3,27100],[41.6,25800],[41.9,31800],[41.9,27300],[42.1,26500],[42.4,29600],
  [42.7,28000],[43.0,30300],[43.3,26300],[43.6,30400],[43.9,28600],[44.1,33600],[44.2,27400],[44.5,29300],[44.8,30400],[44.8,25900],
  [45.1,31300],[45.3,32300],[45.3,34200],[45.6,28200],[45.9,26700],[46.2,29900],[46.5,31500],[46.6,27600],[46.9,30000],[47.2,28800],
  [47.6,32600],[47.7,26300],[47.9,34700],[48.0,29500],[48.3,30700],[48.6,27300],[48.9,31700],[49.1,25600],[49.4,29000],[49.5,32700],
  [49.8,33100],[49.8,28100],[44.0,24700],[46.0,25000],[48.8,24600],
  [50.1,30400],[50.3,33300],[50.4,26900],[50.6,34400],[50.7,29600],[51.0,27800],[51.3,31800],[51.6,28900],[51.7,33500],[51.9,26200],
  [52.2,30100],[52.5,27500],[52.7,33400],[52.8,29300],[53.1,31300],[53.4,25900],[53.6,34200],[53.7,28400],[54.0,30600],[54.3,27000],
  [54.6,32100],[54.8,33200],[54.9,29100],[55.2,33600],[55.2,26500],[55.5,30900],[55.7,32800],[55.8,28000],[56.1,25600],[56.3,33500],
  [56.4,29800],[56.7,27300],[57.0,31400],[57.3,28600],[57.6,34800],[57.6,30200],[57.9,26400],[58.2,32000],[58.5,29200],[58.8,27000],
  [59.1,30800],[59.4,25800],[59.7,28500],[60.0,31900],[52.0,24800],[55.0,24500],[58.0,24900],
  [60.3,27300],[60.5,34300],[60.6,29900],[60.9,26300],[61.2,32300],[61.4,33000],[61.5,28200],[61.8,30600],[62.0,35000],[62.1,26900],
  [62.2,33600],[62.4,29000],[62.7,31400],[63.0,27700],[63.3,33900],[63.6,29600],[63.9,26200],[64.2,31000],[64.4,33500],[64.5,28400],
  [64.8,32400],[65.1,27100],[65.4,30100],[65.5,34300],[65.7,25800],[66.0,29000],[66.3,33200],[66.6,27800],[66.9,31000],[67.2,26500],
  [67.5,29700],[67.8,32300],[68.1,28000],[68.3,33500],[68.4,30800],[68.7,26900],[69.0,31700],[69.3,29200],[69.6,27500],[69.7,32500],
  [70.0,30300],[70.1,34800],[70.4,28600],[70.8,31500],[71.2,27100],[71.6,29800],[72.1,33400],[72.2,34300],[72.0,26200],
  [72.4,30900],[72.8,28200],[73.2,33000],[73.2,31600],[73.6,29500],[74.0,27400],[74.4,32400],[74.8,30300],[75.2,34500],[75.6,28700],
  [76.0,31200],[76.4,26900],[76.8,33600],[77.2,29800],[77.6,32100],[78.0,27900],[78.4,30700],[78.8,35100],[79.2,28900],[79.6,32800],
  [80.0,31300],[80.4,27500],[80.8,34000],[81.2,29800],[81.6,33100],[82.0,30500],[82.4,28200],[82.8,32600],[83.2,31500],[83.6,34800],
  [84.0,27000],[84.4,30400],[84.8,27800],[85.2,33400],[85.7,27400],[86.6,28800],[87.5,30200],[87.8,30700],[88.0,33200],[89.4,31200],
  [89.0,50050],[66.4,46850],[71.9,46240],[59.9,45500],[87.9,45250],[97.8,45150],[73.5,44750],[94.2,44750],[48.6,43850],[39.5,43550],
  [100.7,43450],[113.3,43600],[116.9,43500],[87.4,44000],[75.2,43550],[74.8,43300],[76.5,42850],[57.7,43000],[88.6,43050],[44.8,42400],
  [52.4,42250],[62.9,42250],[70.1,42200],[83.2,42000],[85.5,42000],[87.8,42150],[101.3,42250],[105.1,41000],[101.5,41050],[49.2,41900],
  [60.9,41250],[58.8,40500],[81.2,40450],[84.8,40550],[66.0,40400],[67.1,40000],[89.7,40400],[87.4,40150],[100.4,40800],[97.0,39400],
  [97.1,39150],[103.2,38800],[105.1,39400],[109.3,40400],[109.1,39150],[112.4,39950],[104.3,38450],[75.1,40050],[76.2,39950],[57.2,39600],
  [57.4,39300],[68.9,39600],[84.5,39100],[85.9,39450],[88.8,39150],[90.6,39000],[75.1,38650],[72.3,38750],[53.9,38850],[62.0,38150],
  [63.8,38550],[63.8,37650],[60.0,37750],[62.4,37150],[56.3,37000],[92.2,38000],[90.6,37900],[91.5,37350],[87.2,37200],[89.5,36700],
  [92.1,36400],[98.0,37500],[97.9,37050],[32.9,38200],[35.4,35750],[37.8,36600],[37.7,35600],[34.9,34550],[51.4,37050],[53.9,36900],
  [52.1,35950],[58.2,36500],[58.4,36050],[61.0,35950],[63.0,36600],[64.9,36950],[69.5,36450],[71.1,36600],[73.5,37200],[75.1,37000],
  [81.6,36000],[82.4,35700],[85.1,36000],[89.7,35800],[92.4,35100],[96.0,35700],[97.0,35600],[98.0,35450],[98.7,35300],[96.4,34800],
  [105.3,33750],[101.3,34150],[118.4,32600],[95.5,33200],[95.9,31850],[95.9,30600],[96.2,27450],[98.5,31150],[99.0,30900],[107.2,29850],
  [90.9,34100],[87.4,34450],[84.1,34850],[128.5,26500],[95.8,29200],[96.3,27400],[98.2,31200],[98.8,30900],[89.4,31150],[87.5,30200],
  [86.6,28800],[85.7,27400],[84.8,27800],[84.0,27000],
  [43.4,35200],[47.2,34500],[48.4,34300],[45.8,35300],[55.0,35800],[57.9,35300],[60.3,34700],[66.0,35500],[68.6,35000],[74.1,35600],
  [77.4,35400],[79.8,34300],[83.0,33800],[86.1,32900],[81.3,31800],[42.2,33200],[39.8,32400],[38.6,33700],[46.9,33700],[76.0,37900],
  [78.6,36600],[70.5,35400],
  [40.1,26800],[40.4,29900],[40.7,27900],[40.2,31300],[41.4,28500],[41.7,30200],[41.2,26000],[41.8,29300],[42.9,27000],[43.2,29200],
  [42.8,31300],[43.4,25900],[44.3,28200],[44.6,26400],[44.9,31700],[44.4,29900],[45.8,27200],[46.1,30600],[46.4,28600],[45.9,32600],
  [46.3,26000],[47.3,29600],[47.6,27000],[47.9,31100],[47.4,25800],[47.8,28200],[48.8,26600],[49.1,30300],[49.4,28300],[48.9,32300],
  [49.3,27600],[50.3,28700],[50.6,26000],[50.9,31400],[50.4,32700],[50.8,27400],[51.8,29800],[52.1,27000],[52.4,32200],[51.9,25600],
  [52.3,28600],[53.3,27300],[53.6,30000],[53.9,32700],[53.4,29000],[53.8,26300],[54.8,28600],[55.1,31600],[55.4,27600],[54.9,25800],
  [55.3,30000],[56.3,26900],[56.6,31000],[56.9,28300],[56.4,32500],[56.8,29400],[57.8,27800],[58.1,30600],[58.4,25900],[57.9,32900],
  [58.3,28400],[59.3,29600],[59.6,27000],[59.9,31300],[59.4,26100],[59.8,33200],[60.8,28700],[61.1,31400],[61.4,26800],[60.9,30300],
  [61.3,29500],[62.3,27400],[62.6,30300],[62.9,32400],[62.4,28600],[62.8,25900],[63.8,29000],[64.1,27100],[64.4,30600],[63.9,32300],
  [64.3,28000],[65.3,29500],[65.6,31800],[65.9,27500],[65.4,26100],[66.8,28400],[67.1,30500],[67.4,32900],[66.9,26900],[68.3,29400],
  [68.6,31900],[68.9,27800],[68.4,25700],[69.8,28100],[70.1,30900],[70.4,26600],[69.9,33300],
  [42.3,27600],[42.6,30600],[43.1,28800],[43.6,26800],[43.9,31200],[44.4,27900],[44.7,30000],[45.2,26300],[45.5,29500],[45.8,31700],
  [46.1,27900],[46.6,30300],[47.0,26700],[47.3,28300],[47.6,31000],[48.1,27800],[48.4,29700],[48.7,26200],[49.0,31100],[49.5,28400],
  [50.0,26400],[50.2,29100],[50.5,31600],[51.0,28200],[51.2,30500],[51.5,26500],[52.0,29400],[52.2,31000],[52.6,28000],[53.0,26600],
  [53.2,30900],[53.5,28600],[54.0,29800],[54.2,27500],[54.5,31200],[55.0,28900],[55.3,26800],[55.6,30100],[56.0,27800],[56.2,31900],
  [56.5,26000],[57.0,29900],[57.2,27500],[57.5,32100],[58.0,28800],[58.6,26700],[58.9,30600],[59.2,28000],[59.6,31900],[60.0,26900],
  [60.2,29300],[60.6,31200],[61.0,27400],[61.6,29700],[62.0,26600],[62.5,31700],[63.0,28400],[63.4,30200],[63.7,26800],[64.0,29400],
  [64.6,31300],[65.0,27800],[65.2,30500],[65.8,28800],[66.2,26600],[66.5,31500],[67.0,29200],[67.6,27000],[68.0,30700],[68.6,28600],
  [41.0,28600],[41.5,30700],[40.6,29600],[39.6,28200],[39.3,30400],[38.4,29300],[37.6,28200],[36.4,30200],[35.3,29500],[34.6,30700],
  [44.2,26100],[44.5,27700],[44.8,29100],[45.0,30500],[45.4,26900],[45.7,28400],[46.0,29700],[46.3,31000],[46.6,26400],[46.9,27900],
  [47.2,29300],[47.5,30600],[47.8,25800],[48.1,27200],[48.4,28600],[48.7,30100],[49.0,26800],[49.3,28000],[49.6,29400],[49.9,30800],
  [50.2,26000],[50.5,27500],[50.8,28900],[51.1,30200],[51.4,27100],[51.7,28400],[52.0,29800],[52.3,26300],[52.6,30900],[52.9,27800],
  [53.2,29200],[53.5,26100],[53.8,30400],[54.1,28100],[54.4,26900],[54.7,29500],[55.0,27400],[55.3,30700],[55.6,28500],[55.9,26000],
  [56.2,29000],[56.5,27600],[56.8,30500],[57.1,26600],[57.4,28900],[57.7,30000],[58.0,27100],[58.3,29600],[58.6,25900],[58.9,28200],
  [59.2,30900],[59.5,27400],[59.8,29100],[60.1,26300],[60.4,28000],[60.7,30100],[61.0,26000],[61.3,28300],[61.6,27300],[61.9,30800],
  [62.2,28900],[62.5,26400],[62.8,29900],[63.1,27200],[63.4,28800],[63.7,31000],[64.0,26000],[64.3,29700],[64.6,27400],[64.9,28700],
  [65.2,26600],[65.5,30300],[65.8,27700],[66.1,29600],[66.4,30700]
];

const clusters = [clusterA, clusterB, clusterC, clusterD, clusterE, clusterF];

const CONFIG = {
  width: 2237,
  height: 1740,
  area: { left: 203, top: 22, right: 1976, bottom: 1603 },
  xRange: [3.15, 134.5],
  yRange: [420, 52430],
  panelFill: '#EBEBEB',
  keyFill: '#F2F2F2',
  tickText: '#4D4D4D',
  tickMark: '#333333',
  font: "'Liberation Sans', Arial, sans-serif",
  pointRadius: 4.6,
  keyRadius: 4
};

const isMajorX = (v) => xLabelled.includes(v);
const isMajorY = (v) => yLabelled.includes(v);

function dropScalePadding(scale) {
  scale.paddingTop = 0;
  scale.paddingBottom = 0;
  scale.paddingLeft = 0;
  scale.paddingRight = 0;
}

const panelBackground = {
  id: 'panelBackground',
  beforeDraw(chart) {
    const { ctx, chartArea } = chart;
    ctx.save();
    ctx.fillStyle = CONFIG.panelFill;
    ctx.fillRect(chartArea.left, chartArea.top, chartArea.right - chartArea.left, chartArea.bottom - chartArea.top);
    ctx.restore();
  }
};

// ggplot-style legend: title, grey key squares with a dot, letter to the right
const clusterLegend = {
  id: 'clusterLegend',
  afterDraw(chart) {
    const { ctx } = chart;
    ctx.save();
    ctx.fillStyle = '#000000';
    ctx.font = `46px ${CONFIG.font}`;
    ctx.textAlign = 'left';
    ctx.textBaseline = 'alphabetic';
    ctx.fillText('Cluster', 2046, 603);

    clusterNames.forEach((name, i) => {
      const cy = 668 + i * 72;
      ctx.fillStyle = CONFIG.keyFill;
      ctx.fillRect(2046, cy - 34, 68, 68);
      ctx.fillStyle = clusterColors[i];
      ctx.beginPath();
      ctx.arc(2080, cy, CONFIG.keyRadius, 0, Math.PI * 2);
      ctx.fill();
      ctx.fillStyle = '#000000';
      ctx.font = `37px ${CONFIG.font}`;
      ctx.textBaseline = 'middle';
      ctx.fillText(name, 2139, cy + 1);
    });
    ctx.restore();
  }
};

function buildDatasets() {
  return clusters.map((pairs, i) => ({
    label: clusterNames[i],
    data: pairs.map(([x, y]) => ({ x, y })),
    backgroundColor: clusterColors[i],
    borderWidth: 0,
    pointRadius: CONFIG.pointRadius,
    pointHoverRadius: CONFIG.pointRadius,
    order: clusterNames.length - i
  }));
}

const canvas = document.getElementById('chart');

new Chart(canvas, {
  type: 'scatter',
  data: { datasets: buildDatasets() },
  plugins: [panelBackground, clusterLegend],
  options: {
    responsive: false,
    animation: false,
    devicePixelRatio: 1,
    layout: {
      padding: {
        left: 0,
        top: CONFIG.area.top,
        right: CONFIG.width - CONFIG.area.right,
        bottom: 0
      }
    },
    plugins: {
      legend: { display: false },
      tooltip: { enabled: false }
    },
    scales: {
      x: {
        type: 'linear',
        min: CONFIG.xRange[0],
        max: CONFIG.xRange[1],
        afterFit(scale) {
          scale.height = CONFIG.height - CONFIG.area.bottom;
          dropScalePadding(scale);
        },
        afterBuildTicks(scale) { scale.ticks = xTicks.map((value) => ({ value })); },
        border: { display: false },
        grid: {
          color: '#FFFFFF',
          lineWidth: (ctx) => (isMajorX(ctx.tick.value) ? 4.4 : 2.2),
          drawTicks: true,
          tickLength: 11.5,
          tickWidth: 4.4,
          tickColor: (ctx) => (isMajorX(ctx.tick.value) ? CONFIG.tickMark : 'rgba(0,0,0,0)')
        },
        ticks: {
          autoSkip: false,
          maxRotation: 0,
          padding: 2,
          color: CONFIG.tickText,
          font: { family: CONFIG.font, size: 37 },
          callback: (value) => (isMajorX(value) ? String(value) : '')
        },
        title: {
          display: true,
          text: 'Median HH Income',
          color: '#000000',
          font: { family: CONFIG.font, size: 46 },
          padding: { top: 0, bottom: 17 }
        }
      },
      y: {
        type: 'linear',
        min: CONFIG.yRange[0],
        max: CONFIG.yRange[1],
        afterFit(scale) {
          scale.width = CONFIG.area.left;
          dropScalePadding(scale);
        },
        afterBuildTicks(scale) { scale.ticks = yTicks.map((value) => ({ value })); },
        border: { display: false },
        grid: {
          color: '#FFFFFF',
          lineWidth: (ctx) => (isMajorY(ctx.tick.value) ? 4.4 : 2.2),
          drawTicks: true,
          tickLength: 11.5,
          tickWidth: 4.4,
          tickColor: (ctx) => (isMajorY(ctx.tick.value) ? CONFIG.tickMark : 'rgba(0,0,0,0)')
        },
        ticks: {
          autoSkip: false,
          padding: 8.5,
          color: CONFIG.tickText,
          font: { family: CONFIG.font, size: 37 },
          callback: (value) => (isMajorY(value) ? String(value) : '')
        },
        title: {
          display: true,
          text: 'Average HH Domestic Energy (kWh)',
          color: '#000000',
          font: { family: CONFIG.font, size: 46 },
          padding: { top: 12, bottom: 0 }
        }
      }
    }
  }
});
</script>
</body>
</html>
